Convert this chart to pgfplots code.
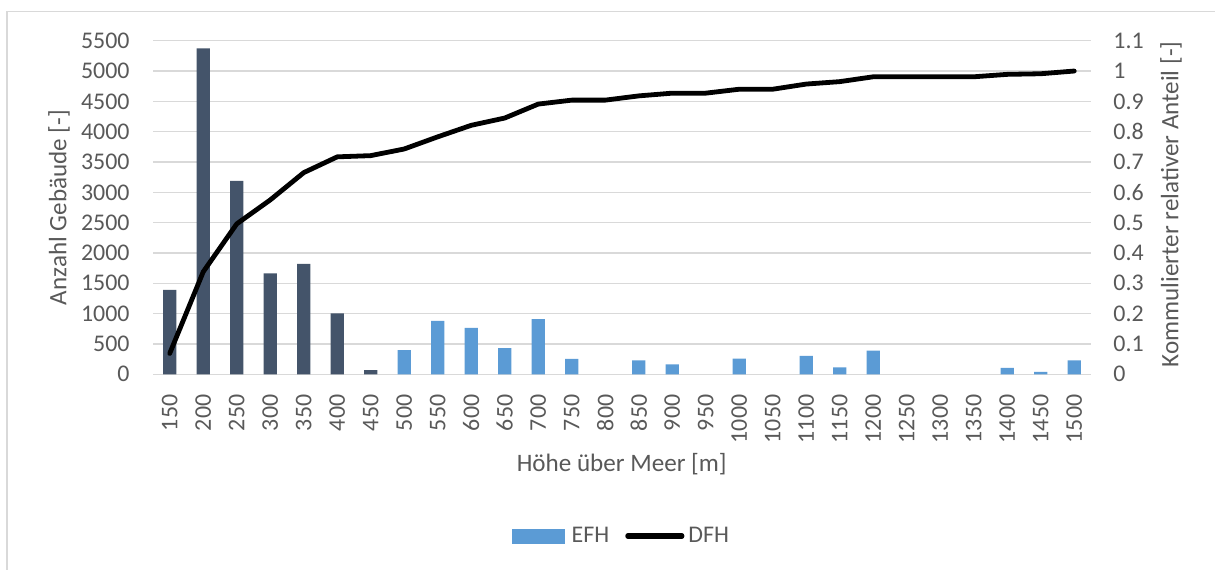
\documentclass[border=0pt]{standalone}
\usepackage{fontspec}
\setmainfont{Carlito}
\usepackage{pgfplots}
\pgfplotsset{compat=1.18}
\definecolor{dfh}{HTML}{44546A}
\definecolor{efh}{HTML}{5B9BD5}
\definecolor{txt}{HTML}{595959}
\definecolor{grd}{HTML}{D9D9D9}
\begin{document}
\begin{tikzpicture}
\useasboundingbox (0,0) rectangle (607.5bp,285bp);
\draw[grd, line width=0.6bp] (3.5bp,-2bp) -- (3.5bp,279.2bp) -- (610bp,279.2bp);
\begin{axis}[
  at={(76.5bp,97.85bp)}, anchor=south west,
  scale only axis, width=469bp, height=166.8bp,
  xmin=-0.5, xmax=27.5, ymin=0, ymax=5500,
  ytick={0,500,1000,1500,2000,2500,3000,3500,4000,4500,5000,5500},
  xtick={0,...,27},
  xticklabels={150,200,250,300,350,400,450,500,550,600,650,700,750,800,850,900,950,1000,1050,1100,1150,1200,1250,1300,1350,1400,1450,1500},
  axis x line*=bottom, axis y line*=left,
  axis line style={draw=none},
  major tick length=0pt,
  ymajorgrids, grid style={grd, line width=0.65bp},
  tick label style={text=txt, font=\fontsize{12}{14}\selectfont, inner sep=0pt},
  xticklabel style={rotate=90, anchor=east},
  xticklabel shift=10bp, yticklabel shift=11.5bp,
  /pgf/number format/1000 sep={}, /pgf/number format/assume math mode=true,
  scaled y ticks=false,
  xlabel={Höhe über Meer [m]}, ylabel={Anzahl Gebäude [-]},
  label style={text=txt, font=\fontsize{12.6}{15}\selectfont},
  xlabel style={at={(0.4997,-0.269)}, anchor=center},
  ylabel style={at={(-0.1002,0.5)}, anchor=center},
]
\addplot[ybar, bar width=6.65bp, bar shift=0pt, fill=dfh, draw=none] coordinates {
  (0,1390) (1,5375) (2,3190) (3,1665) (4,1820) (5,1005) (6,70)
};
\addplot[ybar, bar width=6.65bp, bar shift=0pt, fill=efh, draw=none] coordinates {
  (7,400) (8,880) (9,765) (10,430) (11,910) (12,255) (14,230) (15,165)
  (17,260) (19,305) (20,115) (21,390) (25,105) (26,38) (27,228)
};
\end{axis}
\begin{axis}[
  at={(76.5bp,97.85bp)}, anchor=south west,
  scale only axis, width=469bp, height=166.8bp,
  xmin=-0.5, xmax=27.5, ymin=0, ymax=1.1,
  axis y line*=right, axis x line=none,
  axis line style={draw=none},
  major tick length=0pt,
  ytick={0,0.1,0.2,0.3,0.4,0.5,0.6,0.7,0.8,0.9,1,1.1},
  tick label style={text=txt, font=\fontsize{12}{14}\selectfont, inner sep=0pt},
  yticklabel shift=11bp,
  /pgf/number format/assume math mode=true,
  ylabel={Kommulierter relativer Anteil [-]},
  label style={text=txt, font=\fontsize{12.6}{15}\selectfont},
  ylabel style={at={(1.0853,0.509)}, anchor=center},
  legend style={at={(0.5005,-0.4847)}, anchor=center, draw=none, fill=none,
    text=txt, font=\fontsize{12}{14}\selectfont,
    /tikz/every even column/.append style={column sep=6bp}},
  legend columns=-1,
]
\addlegendimage{legend image code/.code={\fill[efh] (0bp,-3.5bp) rectangle (26bp,3.5bp); \path (27.5bp,0bp);}}
\addlegendentry{EFH}
\addplot[black, line width=2.4bp, line join=round, line cap=round,
  legend image code/.code={\draw[black, line width=2.6bp, line cap=round] (0bp,0bp) -- (27bp,0bp);}]
  coordinates {
  (0,0.069) (1,0.338) (2,0.496) (3,0.575) (4,0.665) (5,0.717) (6,0.721)
  (7,0.743) (8,0.783) (9,0.821) (10,0.845) (11,0.891) (12,0.904) (13,0.904)
  (14,0.918) (15,0.927) (16,0.927) (17,0.940) (18,0.940) (19,0.957) (20,0.965)
  (21,0.981) (22,0.981) (23,0.981) (24,0.981) (25,0.989) (26,0.991) (27,1.0)
};
\addlegendentry{DFH}
\end{axis}
\end{tikzpicture}
\end{document}
